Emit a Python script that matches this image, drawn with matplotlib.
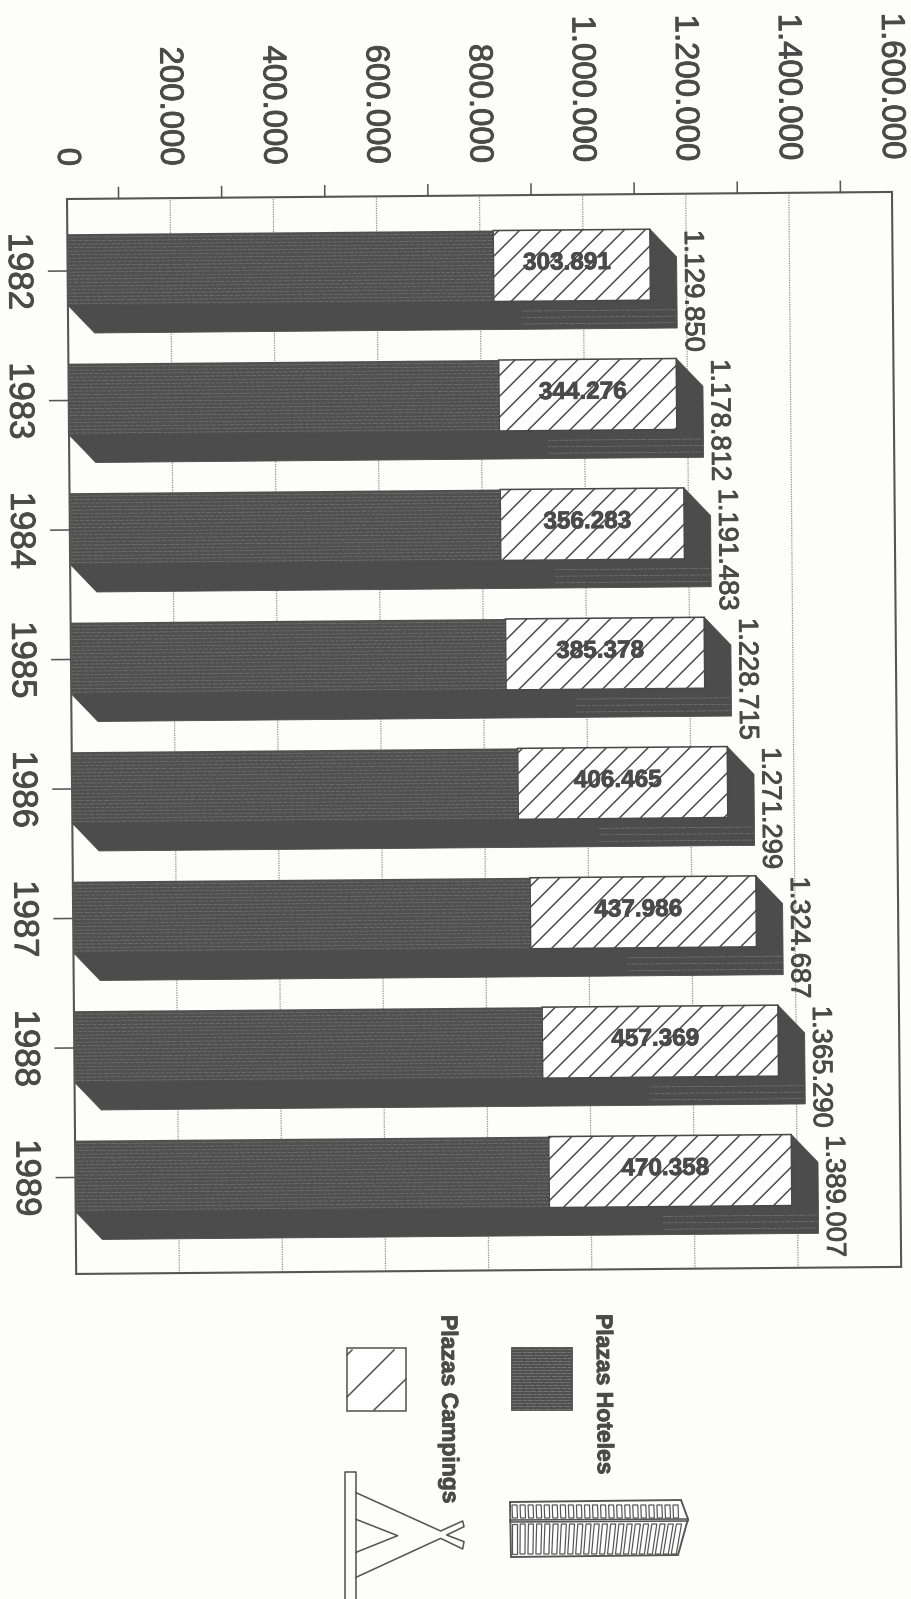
#!/usr/bin/env python3
"""Plazas hoteleras y de campings, 1982-1989: stacked bars set sideways on the page."""

import numpy as np
import matplotlib

matplotlib.use("Agg")
import matplotlib.pyplot as plt
import matplotlib.patheffects as pe
from matplotlib.patches import Polygon, Rectangle
from matplotlib.transforms import Affine2D

years = ["1982", "1983", "1984", "1985", "1986", "1987", "1988", "1989"]
totals = [1129850, 1178812, 1191483, 1228715, 1271299, 1324687, 1365290, 1389007]
campings = [303891, 344276, 356283, 385378, 406465, 437986, 457369, 470358]
value_ticks = [0, 200000, 400000, 600000, 800000, 1000000, 1200000, 1400000, 1600000]
legend_labels = ["Plazas Hoteles", "Plazas Campings"]

W, H, DPI = 911, 1599, 125      # 125 dpi gives a 20.8 px hatch pitch with "//"
TILT = 0.49                     # page sits slightly crooked
INK = "#4a4a4a"
DARK = "#505050"
STREAK = "#767676"
PAPER = "#fdfdfb"
SANS = "Liberation Sans"
HEAVY = [pe.withStroke(linewidth=0.5, foreground=INK)]

plt.rcParams["font.family"] = [SANS, "DejaVu Sans"]
plt.rcParams["hatch.linewidth"] = 0.85


def thousands(v):
    return f"{v:,}".replace(",", ".")


def streaks(ax, trans, x0, x1, y0, y1, step=0.027):
    # horizontal print-screen streaks over a dark face
    for k, y in enumerate(np.arange(y0 + step / 2, y1, step)):
        dash = (k % 3, (4 + k % 5, 1 + k % 2, 9 - k % 4, 2))
        ax.plot([x0, x1], [y, y], color=STREAK, lw=0.4, ls=dash, transform=trans,
                zorder=4, clip_on=False)


def draw_chart(fig):
    left, top, width, height = 67, 199, 825, 1075
    ax = fig.add_axes([left / W, 1 - (top + height) / H, width / W, height / H])
    pitch = 129.5
    ax.set_xlim(0, 1600000)
    ax.set_ylim((height - 72) / pitch, -72 / pitch)
    ax.axis("off")

    tilt = Affine2D().rotate_deg_around(left, H - top, TILT)
    trans = ax.transData + tilt
    y_lo, y_hi = ax.get_ylim()

    def shifted(dx, dy):
        return ax.transData + Affine2D().translate(dx, dy) + tilt

    # frame and grid
    ax.add_patch(Rectangle((0, y_hi), 1600000, y_lo - y_hi, fill=False, ec="#555555", lw=1.2,
                           transform=trans, zorder=6, clip_on=False))
    for v in value_ticks[1:-1]:
        ax.plot([v, v], [y_lo, y_hi], color="#8a8a8a", lw=0.7, ls=(0, (1, 1)), transform=trans,
                zorder=1, clip_on=False)

    # value axis: labels sit on the grid, tick marks fall between the lines
    for v in value_ticks:
        ax.text(v, y_hi, thousands(v), transform=shifted(0, 33), rotation=-90 + TILT,
                rotation_mode="anchor", ha="right", va="center", fontsize=19, color=INK,
                path_effects=HEAVY)
    for a, b in zip(value_ticks[:-1], value_ticks[1:]):
        ax.plot([(a + b) / 2] * 2, [y_hi, y_hi - 11 / pitch], color="#555555", lw=0.9,
                transform=trans, zorder=6, clip_on=False)

    bar_h = 71 / pitch
    depth_x, depth_y = 51400, 28 / pitch
    ypos = np.arange(len(years))
    total = np.array(totals)
    camp = np.array(campings)
    hotels = total - camp

    for i, year in enumerate(years):
        ax.plot([-19 * 1600000 / width, 0], [i, i], color="#555555", lw=0.9, transform=trans,
                clip_on=False, zorder=6)
        ax.text(0, i, year, transform=shifted(-49, 0), rotation=-90 + TILT, rotation_mode="anchor",
                ha="center", va="center", fontsize=20, color=INK, path_effects=HEAVY)

        t, b = i - bar_h / 2 - 0.01, i + bar_h / 2 - 0.01
        ax.add_patch(Polygon([(total[i], t), (total[i] + depth_x, t + depth_y),
                              (total[i] + depth_x, b + depth_y), (depth_x, b + depth_y), (0, b)],
                             closed=True, fc="#4c4c4c", ec="#4c4c4c", lw=0.5, transform=trans,
                             zorder=2, clip_on=False))
        streaks(ax, trans, total[i] - 250000, total[i] + depth_x, b + 0.05, b + depth_y, step=0.05)

        ax.text(total[i], t, thousands(int(total[i])), transform=shifted(42, -1),
                rotation=-90 + TILT, rotation_mode="anchor", ha="left", va="center",
                fontsize=15.8, color=INK, zorder=7, path_effects=HEAVY)

    front = ax.barh(ypos - 0.01, hotels, height=bar_h, color=DARK, linewidth=0, zorder=3)
    hatched = ax.barh(ypos - 0.01, camp, left=hotels, height=bar_h, facecolor="white",
                      edgecolor="#484848", linewidth=0.9, hatch="//", zorder=3)
    for p in list(front) + list(hatched):
        p.set_transform(trans)
        p.set_clip_on(False)
    for i in ypos:
        streaks(ax, trans, 0, hotels[i], i - bar_h / 2, i + bar_h / 2)
        ax.text(hotels[i] + camp[i] / 2, i - 0.03, thousands(int(camp[i])), transform=shifted(-5, 0),
                ha="center", va="center", fontsize=14, fontweight="bold", color=INK, zorder=7,
                rotation=TILT, path_effects=HEAVY)


def draw_legend(fig):
    # page overlay measured in pixels
    ov = fig.add_axes([0, 0, 1, 1])
    ov.set_xlim(0, W)
    ov.set_ylim(H, 0)
    ov.axis("off")
    ov.patch.set_alpha(0)

    ov.text(603, 1314, legend_labels[0], rotation=-90 + TILT, rotation_mode="anchor", ha="left",
            va="center", fontsize=13.2, fontweight="bold", color=INK, path_effects=HEAVY)
    ov.text(448, 1315, legend_labels[1], rotation=-90 + TILT, rotation_mode="anchor", ha="left",
            va="center", fontsize=13.2, fontweight="bold", color=INK, path_effects=HEAVY)

    ov.add_patch(Rectangle((511, 1347), 61, 63, fc=DARK, ec=DARK, lw=0.5))
    for k, y in enumerate(np.arange(1349, 1410, 3.0)):
        ov.plot([512, 571], [y, y], color="#858585", lw=0.4, ls=(k % 3, (4 + k % 5, 1, 8, 2)))

    ov.add_patch(Rectangle((347, 1348), 59, 63, fc="white", ec="#555555", lw=0.9))
    for x0, y0, x1, y1 in [(347, 1355, 352, 1350), (347, 1397, 394, 1350), (374, 1410, 406, 1379)]:
        ov.plot([x0, x1], [y0, y1], color="#555555", lw=0.9)

    # hotel block
    line = dict(color="#555555", lw=0.9)
    ov.add_patch(Polygon([(510, 1502), (681, 1500), (688, 1519), (678, 1555), (511, 1557)],
                         closed=True, fc="white", ec="#555555", lw=1.1))
    ov.plot([510, 688], [1520, 1519], **line)
    ov.plot([510, 688], [1522, 1521], **line)
    for k in range(21):
        x = 512 + k * 8.05
        slant = 3.5 * k / 20
        ov.add_patch(Polygon([(x, 1505), (x + 5, 1505), (x + 5.5, 1518), (x + 0.5, 1518)],
                             closed=True, fc="none", ec="#555555", lw=0.7))
        ov.add_patch(Polygon([(x + slant, 1524), (x + 5 + slant, 1524), (x + 5 - slant / 2, 1554),
                              (x - slant / 2, 1554)], closed=True, fc="none", ec="#555555", lw=0.7))

    # tent
    ov.plot([345, 345, 356, 356], [1599, 1472, 1472, 1599], **line)
    px = lambda pts: ([330 + a / 3 for a, _ in pts], [1460 + b / 3 for _, b in pts])
    outer = [(78, 98), (332, 213), (398, 183), (402, 200), (350, 225), (402, 245), (398, 267),
             (332, 235), (78, 352)]
    inner = [(78, 178), (203, 227), (78, 277)]
    ov.plot(*px(outer), **line)
    ov.plot(*px(inner), **line)


def main():
    fig = plt.figure(figsize=(W / DPI, H / DPI), dpi=DPI, facecolor=PAPER)
    draw_chart(fig)
    draw_legend(fig)
    fig.savefig("out.png", dpi=DPI, facecolor=PAPER)


if __name__ == "__main__":
    main()
